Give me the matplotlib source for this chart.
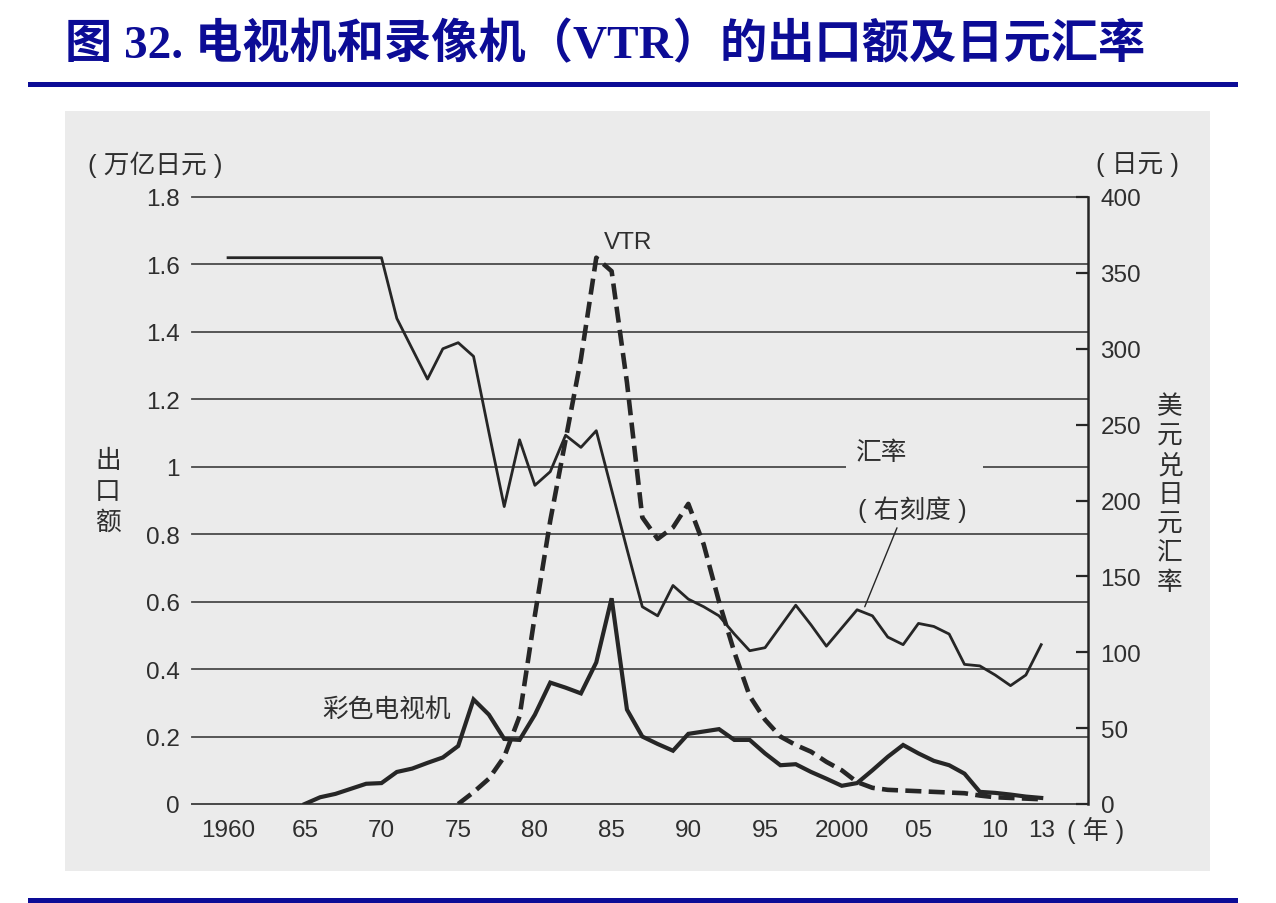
import matplotlib
matplotlib.use("Agg")
import matplotlib.pyplot as plt
from matplotlib.patches import Rectangle
from matplotlib.lines import Line2D

plt.rcParams['font.family'] = ['Liberation Sans', 'Noto Sans CJK SC', 'DejaVu Sans']

# ---------------- data ----------------
rate_years = list(range(1960, 2014))
rate_values = [360, 360, 360, 360, 360, 360, 360, 360, 360, 360, 360,   # 1960-1970
               320, 300, 280, 300, 304, 295, 245, 196, 240, 210,         # 1971-1980
               219, 243, 235, 246, 207, 168, 130, 124, 144, 135,         # 1981-1990
               130, 124, 112, 101, 103, 117, 131, 118, 104, 116,         # 1991-2000
               128, 124, 110, 105, 119, 117, 112, 92, 91, 85,            # 2001-2010
               78, 85, 105]                                              # 2011-2013

tv_years = list(range(1965, 2014))
tv_values = [0.0, 0.02, 0.03, 0.045, 0.06, 0.062,                        # 1965-1970
             0.095, 0.105, 0.122, 0.138, 0.172, 0.31, 0.265, 0.193, 0.19, 0.265,   # 1971-1980
             0.36, 0.345, 0.328, 0.42, 0.61, 0.28, 0.2, 0.178, 0.158, 0.208,      # 1981-1990
             0.215, 0.222, 0.19, 0.19, 0.15, 0.115, 0.118, 0.095, 0.075, 0.054,   # 1991-2000
             0.062, 0.1, 0.14, 0.175, 0.15, 0.128, 0.115, 0.09, 0.036, 0.033,     # 2001-2010
             0.028, 0.022, 0.018]                                                # 2011-2013

vtr_years = list(range(1975, 2014))
vtr_values = [0.0, 0.035, 0.075, 0.14, 0.26, 0.56,                       # 1975-1980
              0.84, 1.08, 1.32, 1.62, 1.58, 1.25, 0.85, 0.786, 0.82, 0.89,   # 1981-1990
              0.77, 0.6, 0.45, 0.32, 0.25, 0.2, 0.175, 0.155, 0.125, 0.1,    # 1991-2000
              0.065, 0.048, 0.042, 0.04, 0.038, 0.036, 0.034, 0.032, 0.025, 0.02,  # 2001-2010
              0.018, 0.016, 0.014]                                          # 2011-2013

x_tick_pos = [1960, 1965, 1970, 1975, 1980, 1985, 1990, 1995, 2000, 2005, 2010, 2013]
x_tick_labels = ['1960', '65', '70', '75', '80', '85', '90', '95', '2000', '05', '10', '13']
left_ticks = [0, 0.2, 0.4, 0.6, 0.8, 1.0, 1.2, 1.4, 1.6, 1.8]
left_tick_labels = ['0', '0.2', '0.4', '0.6', '0.8', '1', '1.2', '1.4', '1.6', '1.8']
right_ticks = [0, 50, 100, 150, 200, 250, 300, 350, 400]

title = '图 32. 电视机和录像机（VTR）的出口额及日元汇率'

# ---------------- figure ----------------
W, H = 1276, 904
fig = plt.figure(figsize=(W / 100, H / 100), dpi=100)
fig.patch.set_facecolor('white')

def fx(px):
    return px / W

def fy(py):
    return 1 - py / H

panel_col = '#ebebeb'
fig.add_artist(Rectangle((fx(65), fy(872)), fx(1210) - fx(65), fy(112) - fy(872),
                         transform=fig.transFigure, facecolor=panel_col,
                         edgecolor='none', zorder=0))

blue = '#0c0c96'
fig.add_artist(Line2D([fx(30), fx(1235)], [fy(85), fy(85)], transform=fig.transFigure,
                      color=blue, lw=3.6))
fig.add_artist(Line2D([fx(30), fx(1235)], [fy(901), fy(901)], transform=fig.transFigure,
                      color=blue, lw=3.6))
fig.text(fx(65), fy(46), title, fontsize=34, fontweight='bold', color=blue,
         va='center', ha='left', family=['Liberation Serif', 'Noto Sans CJK SC'])

ink = '#262626'
txt = '#2e2e2e'
grid_col = '#4a4a4a'

ax = fig.add_axes([fx(192), fy(805), fx(1088) - fx(192), fy(198) - fy(805)])
ax.set_facecolor('none')
ax.set_xlim(1957.65, 2016.05)
ax.set_ylim(0, 1.8)
ax.set_axisbelow(True)
ax.set_yticks(left_ticks)
ax.set_yticklabels(left_tick_labels)
ax.yaxis.grid(True, color=grid_col, lw=1.3)
for gl in ax.get_ygridlines():
    gl.set_clip_on(False)
ax.tick_params(axis='y', length=0, pad=9, labelsize=17.5, labelcolor=txt)
ax.set_xticks(x_tick_pos)
ax.set_xticklabels(x_tick_labels)
ax.set_xticks(list(range(1965, 2011, 5)), minor=True)
ax.tick_params(axis='x', which='major', length=0, pad=11, labelsize=17.5, labelcolor=txt)
ax.tick_params(axis='x', which='minor', direction='in', length=7, width=1.2, color=grid_col)
for s in ['left', 'top', 'right']:
    ax.spines[s].set_visible(False)
ax.spines['bottom'].set_color(grid_col)
ax.spines['bottom'].set_linewidth(1.3)

# gap in the 1.0 grid line behind the "汇率" label
ax.add_patch(Rectangle((2000.3, 0.985), 8.9, 0.03, facecolor=panel_col,
                       edgecolor='none', zorder=1))

ax.plot(tv_years, tv_values, color=ink, lw=3.0, solid_joinstyle='miter', zorder=3)
ax.plot(vtr_years, vtr_values, color=ink, lw=3.3, linestyle=(0, (3.5, 1.6)), zorder=3)

ax2 = ax.twinx()
ax2.set_ylim(0, 400)
ax2.set_yticks(right_ticks)
ax2.tick_params(axis='y', direction='in', length=9, width=1.6, pad=9, labelsize=17.5,
                labelcolor=txt, color=ink)
for s in ['left', 'top', 'bottom']:
    ax2.spines[s].set_visible(False)
ax2.spines['right'].set_color(ink)
ax2.spines['right'].set_linewidth(1.8)
ax2.plot(rate_years, rate_values, color=ink, lw=2.0, zorder=3)
ax2.annotate('', xy=(2001.5, 130), xytext=(2003.6, 182),
             arrowprops=dict(arrowstyle='-', lw=1.0, color=ink, shrinkA=0, shrinkB=0))

cjk = ['Liberation Sans', 'Noto Sans CJK SC']
fs = 18.5
fig.text(fx(155), fy(165), '( 万亿日元 )', fontsize=fs, color=txt, ha='center', va='center', family=cjk)
fig.text(fx(1137), fy(165), '( 日元 )', fontsize=fs, color=txt, ha='center', va='center', family=cjk)
fig.text(fx(108), fy(492), '出\n口\n额', fontsize=fs, color=txt, ha='center', va='center',
         linespacing=1.35, family=cjk)
fig.text(fx(1170), fy(495), '美\n元\n兑\n日\n元\n汇\n率', fontsize=fs, color=txt, ha='center',
         va='center', linespacing=1.27, family=cjk)
fig.text(fx(628), fy(243), 'VTR', fontsize=17.5, color=txt, ha='center', va='center', family=cjk)
fig.text(fx(882), fy(453), '汇率', fontsize=fs, color=txt, ha='center', va='center', family=cjk)
fig.text(fx(912), fy(510), '( 右刻度 )', fontsize=fs, color=txt, ha='center', va='center', family=cjk)
fig.text(fx(387), fy(710), '彩色电视机', fontsize=fs, color=txt, ha='center', va='center', family=cjk)
fig.text(fx(1096), fy(830), '( 年 )', fontsize=fs, color=txt, ha='center', va='center', family=cjk)

fig.savefig('out.png', dpi=100, facecolor='white')
